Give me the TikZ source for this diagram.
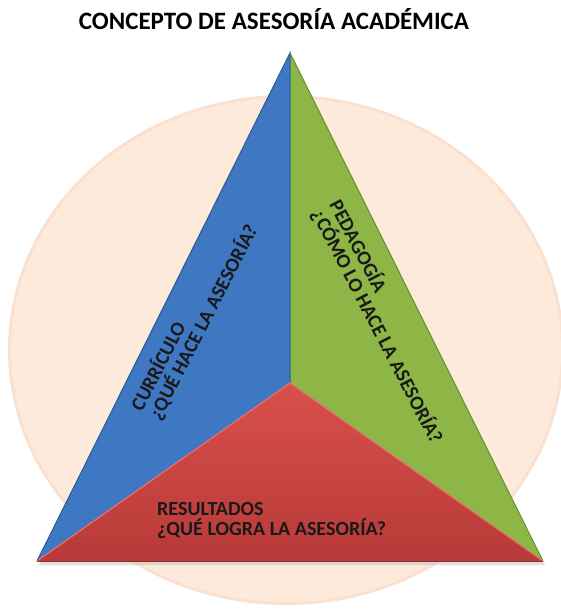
\documentclass[tikz,border=0pt]{standalone}
\usepackage{fontspec}
\setmainfont{Carlito}
\definecolor{peach}{HTML}{FDEADB}
\definecolor{peachrim}{HTML}{F6CDAF}
\definecolor{blueface}{HTML}{3F78C2}
\definecolor{blueedge}{HTML}{2A5A96}
\definecolor{greenface}{HTML}{8DB646}
\definecolor{greenedge}{HTML}{6A8C2C}
\definecolor{redtop}{HTML}{D9504C}
\definecolor{redbot}{HTML}{B73A38}
\definecolor{rededge}{HTML}{E8706A}
\begin{document}
\begin{tikzpicture}[x=1pt,y=-1pt,
  lbl/.style={font=\fontsize{20}{20}\selectfont\bfseries, text=black!90, align=left, inner sep=0pt},
  face/.style={line join=round}]
\useasboundingbox (0,0) rectangle (561,611);
% background ellipse
\fill[peachrim!60] (286,350) ellipse [x radius=278, y radius=255];
\fill[peach] (286,350) ellipse [x radius=275, y radius=252];
% key points
\coordinate (apex) at (290,53);
\coordinate (bl) at (37,561);
\coordinate (br) at (543,561);
\coordinate (mid) at (290,383);
% shadow
\fill[black!25, opacity=0.5] ([shift={(2,4)}]bl) -- ([shift={(2,4)}]br) -- ([shift={(2,4)}]apex) -- cycle;
% faces
\fill[blueface, face] (apex) -- (mid) -- (bl) -- cycle;
\fill[greenface, face] (apex) -- (br) -- (mid) -- cycle;
\draw[blueedge, line width=1pt] (bl) -- (apex) -- (mid);
\draw[greenedge, line width=1pt] (apex) -- (br);
\shade[top color=redtop, bottom color=redbot, face] (bl) -- (mid) -- (br) -- cycle;
\draw[rededge, line width=1.2pt] (bl) -- (mid) -- (br);
\draw[redbot!80!black, line width=1pt] (bl) -- (br);
% title
\node[inner sep=0pt, anchor=base, font=\fontsize{25}{30}\selectfont\bfseries] (title) at (274,29) {CONCEPTO DE ASESORÍA ACADÉMICA};
% labels
\node[lbl, rotate=63, anchor=west] (curr) at (145,414) {CURRÍCULO\\¿QUÉ HACE LA ASESORÍA?};
\node[lbl, rotate=-62.5, anchor=west] (peda) at (326,206) {PEDAGOGÍA\\¿CÓMO LO HACE LA ASESORÍA?};
\node[lbl, anchor=west] (res) at (157,521) {RESULTADOS\\¿QUÉ LOGRA LA ASESORÍA?};
\end{tikzpicture}
\end{document}
